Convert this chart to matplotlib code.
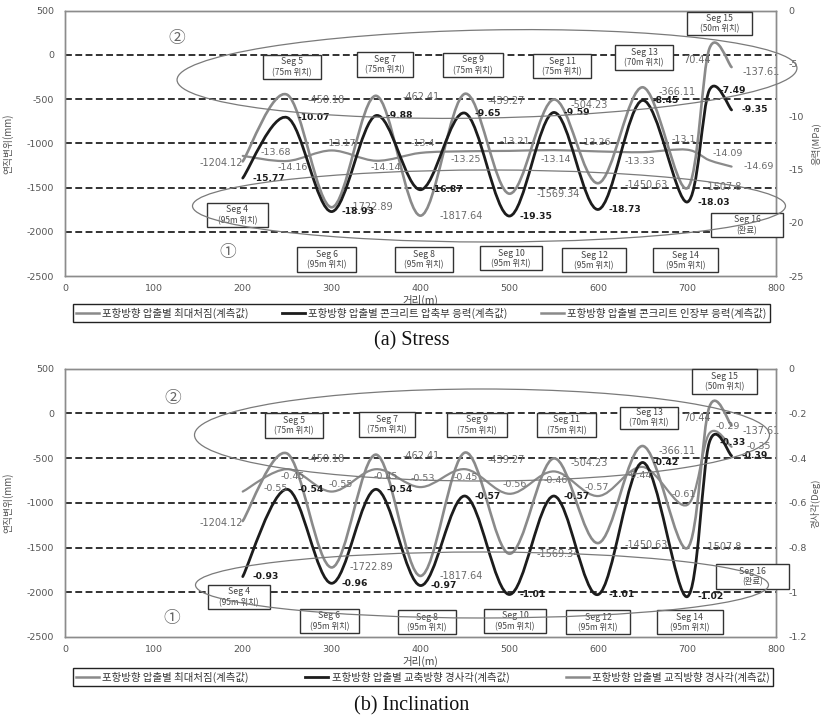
import numpy as np
import matplotlib
matplotlib.use("Agg")
import matplotlib.pyplot as plt
from matplotlib.path import Path
from matplotlib.patches import PathPatch, Ellipse, Rectangle
from matplotlib.lines import Line2D
from matplotlib.ticker import FuncFormatter

plt.rcParams['axes.unicode_minus'] = False
KR = ['Noto Sans CJK KR', 'DejaVu Sans']

# ---- measured values along the route ----
distance = [200, 250, 300, 350, 400, 450, 500, 550, 600, 650, 700, 725, 750]

max_deflection = [-1204.12, -450.18, -1722.89, -462.41, -1817.64, -439.27,
                  -1569.34, -504.23, -1450.63, -366.11, -1507.8, 70.44, -137.61]
compression_stress = [-15.77, -10.07, -18.93, -9.88, -16.87, -9.65, -19.35,
                      -9.59, -18.73, -8.45, -18.03, -7.49, -9.35]
tension_stress = [-13.68, -14.16, -13.17, -14.14, -13.4, -13.25, -13.21,
                  -13.14, -13.26, -13.33, -13.1, -14.09, -14.69]
axial_incl = [-0.93, -0.54, -0.96, -0.54, -0.97, -0.57, -1.01, -0.57,
              -1.01, -0.42, -1.02, -0.33, -0.39]
transverse_incl = [-0.55, -0.45, -0.55, -0.45, -0.53, -0.45, -0.56, -0.46,
                   -0.57, -0.44, -0.61, -0.29, -0.35]

x_ticks = [0, 100, 200, 300, 400, 500, 600, 700, 800]
left_ticks = [500, 0, -500, -1000, -1500, -2000, -2500]
grid_levels = [0, -500, -1000, -1500, -2000]
stress_ticks = [0, -5, -10, -15, -20, -25]
incl_ticks = [0, -0.2, -0.4, -0.6, -0.8, -1.0, -1.2]

legend_a = ['포항방향 압출별 최대처짐(계측값)',
            '포항방향 압출별 콘크리트 압축부 응력(계측값)',
            '포항방향 압출별 콘크리트 인장부 응력(계측값)']
legend_b = ['포항방향 압출별 최대처짐(계측값)',
            '포항방향 압출별 교축방향 경사각(계측값)',
            '포항방향 압출별 교직방향 경사각(계측값)']

seg_names = ['Seg 4', 'Seg 5', 'Seg 6', 'Seg 7', 'Seg 8', 'Seg 9', 'Seg 10',
             'Seg 11', 'Seg 12', 'Seg 13', 'Seg 14', 'Seg 15', 'Seg 16']
seg_notes = ['(95m 위치)', '(75m 위치)', '(95m 위치)', '(75m 위치)', '(95m 위치)',
             '(75m 위치)', '(95m 위치)', '(75m 위치)', '(95m 위치)', '(70m 위치)',
             '(95m 위치)', '(50m 위치)', '(완료)']

# ---- layout (figure pixels, origin top-left) ----
W, H = 824, 719
boxes_a = [(237.5, 215, 61, 24), (292, 67, 58, 24), (326.5, 259.5, 59, 25),
           (385, 64.5, 56, 25), (424, 259.5, 58, 25), (473, 65, 60, 24),
           (511, 258, 62, 24), (562, 66, 58, 24), (594, 260, 64, 24),
           (644, 57.5, 58, 25), (685.5, 260, 65, 24), (719.5, 23.5, 65, 23),
           (747, 225, 72, 24)]
boxes_b = [(239, 597, 62, 24), (294, 425.5, 58, 25), (329.5, 621, 59, 24),
           (387, 424.5, 56, 25), (427, 622, 58, 24), (477, 425, 60, 24),
           (515, 621, 62, 24), (566.5, 425, 59, 24), (598, 622, 64, 24),
           (649, 417.5, 58, 22), (690, 622, 66, 24), (724.5, 381.5, 65, 25),
           (752.5, 576.5, 73, 25)]

# label offsets in pixels (dx, dy) for each point
defl_off = [(-21, -2), (39, -5), (40, 0), (45, -1), (41, 0), (41, -7), (49, 0),
            (35, -5), (48, -2), (34, -5), (36, 1), (-12, -11), (30, -5)]
wavy_off = [(33, 3), (6, -7), (9, 7), (10, -7), (2, 9), (1, -8), (5, 9),
            (2, -9), (-2, 9), (-3, -9), (-3, 10), (18, 7), (27, 0)]

GRAY = '#8a8a8a'
DARK = '#1c1c1c'


def smooth_path(xs, ys):
    pts = np.column_stack([xs, ys]).astype(float)
    n = len(pts)
    verts = [pts[0]]
    codes = [Path.MOVETO]
    for i in range(n - 1):
        p0 = pts[i - 1] if i > 0 else pts[i]
        p1, p2 = pts[i], pts[i + 1]
        p3 = pts[i + 2] if i + 2 < n else pts[i + 1]
        verts += [p1 + (p2 - p0) / 6.0, p2 - (p3 - p1) / 6.0, p2]
        codes += [Path.CURVE4] * 3
    return Path(verts, codes)


def draw_series(ax, ys, color, lw, z):
    ax.add_patch(PathPatch(smooth_path(distance, ys), facecolor='none',
                           edgecolor=color, lw=lw, zorder=z,
                           capstyle='round', joinstyle='round'))


def label_series(ax, ys, offsets, color, weight, size, ha='center'):
    for x, y, (dx, dy) in zip(distance, ys, offsets):
        ax.annotate(f'{y:g}', (x, y), xytext=(dx, dy), textcoords='offset pixels',
                    ha=ha, va='center', fontsize=size, color=color,
                    fontweight=weight, family='DejaVu Sans', zorder=6)


def px(x, y):
    return (x / 100.0, (H - y) / 100.0)


fig = plt.figure(figsize=(W / 100, H / 100), dpi=100)
fig.patch.set_facecolor('white')


def build_panel(rect, right_lim, right_ticks, right_label, second, third,
                names, boxes, ell1, ell2, num1, num2, legend_labels,
                legend_box, caption, caption_y, wavy_color):
    ax = fig.add_axes(rect)
    ax2 = ax.twinx()
    ax.set_xlim(0, 800)
    ax.set_ylim(-2500, 500)
    ax2.set_ylim(*right_lim)
    ax.set_xticks(x_ticks)
    ax.set_yticks(left_ticks)
    ax2.set_yticks(right_ticks)
    ax2.yaxis.set_major_formatter(FuncFormatter(lambda v, p: f'{round(v, 2):g}'))
    for a in (ax, ax2):
        for s in a.spines.values():
            s.set_color('#8c8c8c')
            s.set_linewidth(1.0)
        a.tick_params(length=0, labelsize=6.8, labelcolor='#555555')
    ax.tick_params(axis='y', pad=8)
    ax.tick_params(axis='x', pad=6)
    ax2.tick_params(axis='y', pad=9)
    for g in grid_levels:
        ax.axhline(g, color='#222222', lw=1.3, ls=(0, (3.8, 1.9)), zorder=1)

    draw_series(ax, max_deflection, GRAY, 1.9, 2)
    draw_series(ax2, third, wavy_color, 1.6, 2)
    draw_series(ax2, second, DARK, 2.0, 3)

    label_series(ax, max_deflection, defl_off, '#6a6a6a', 'normal', 7)
    label_series(ax2, second, [(10, 0)] * len(distance), '#1c1c1c', 'bold', 6.6,
                 ha='left')
    label_series(ax2, third, wavy_off, '#6a6a6a', 'normal', 6.8)

    ax.set_xlabel('거리(m)', family=KR, fontsize=7.5, color='#444444', labelpad=1)
    ax.set_ylabel('연직변위(mm)', family=KR, fontsize=7, color='#555555')
    ax.yaxis.set_label_coords(-0.073, 0.5)
    ax2.set_ylabel(right_label, family=KR, fontsize=6.8, color='#555555',
                   rotation=90)
    ax2.yaxis.set_label_coords(1.049, 0.5)

    tr = fig.dpi_scale_trans
    for name, note, (cx, cy, w, h) in zip(names, seg_notes, boxes):
        x0, y0 = px(cx - w / 2, cy + h / 2)
        fig.add_artist(Rectangle((x0, y0), w / 100, h / 100, transform=tr,
                                 facecolor='white', edgecolor='#333333',
                                 lw=1.0, zorder=4))
        fig.text(*px(cx, cy - 5), name, transform=tr, ha='center', va='center',
                 fontsize=6.3, color='#444444', family=KR, zorder=5)
        fig.text(*px(cx, cy + 5.5), note, transform=tr, ha='center', va='center',
                 fontsize=6.0, color='#444444', family=KR, zorder=5)
    for (cx, cy, w, h, ang) in (ell1, ell2):
        fig.add_artist(Ellipse(px(cx, cy), w / 100, h / 100, angle=ang,
                               transform=tr, facecolor='none',
                               edgecolor='#7a7a7a', lw=0.9, zorder=6))
    for sym, (cx, cy) in (('①', num1), ('②', num2)):
        fig.text(*px(cx, cy), sym, transform=tr, ha='center', va='center',
                 fontsize=12, color='#666666', family=KR, zorder=6)

    handles = [Line2D([], [], color=GRAY, lw=1.8),
               Line2D([], [], color=DARK, lw=2.0),
               Line2D([], [], color=wavy_color, lw=1.8)]
    lx0, ly0, lx1, ly1 = legend_box
    fig.legend(handles, legend_labels, ncol=3, mode='expand', loc='center',
               bbox_to_anchor=(lx0 / W, 1 - ly1 / H, (lx1 - lx0) / W,
                               (ly1 - ly0) / H),
               frameon=True, fancybox=False, edgecolor='#222222',
               framealpha=1, borderpad=0.3, handlelength=2.2,
               handletextpad=0.3, columnspacing=1.0, borderaxespad=0,
               prop={'family': KR, 'size': 7.5}, labelcolor='#333333')
    fig.text(0.5, caption_y, caption, ha='center', va='center',
             family='Liberation Serif', fontsize=14.5, color='#111111')
    return ax, ax2


build_panel([65 / W, 1 - 276 / H, 711 / W, 265.3 / H], (-25, 0), stress_ticks,
            '응력(MPa)', compression_stress, tension_stress, seg_names, boxes_a,
            (489, 206, 593, 72, 0), (487, 74, 620, 88, 1.1),
            (228, 252), (177, 39), legend_a, (73, 304, 770, 322),
            '(a) Stress', 1 - 341 / H, '#8a8a8a')

build_panel([65 / W, 1 - 637 / H, 711 / W, 268.5 / H], (-1.2, 0), incl_ticks,
            '경사각(Deg)', axial_incl, transverse_incl, seg_names, boxes_b,
            (482, 585, 573, 66, 0), (482, 435, 575, 92, 0),
            (172, 618), (173, 399), legend_b, (73, 668, 773, 686),
            '(b) Inclination', 1 - 706 / H, '#8a8a8a')

fig.savefig('out.png', dpi=100)
